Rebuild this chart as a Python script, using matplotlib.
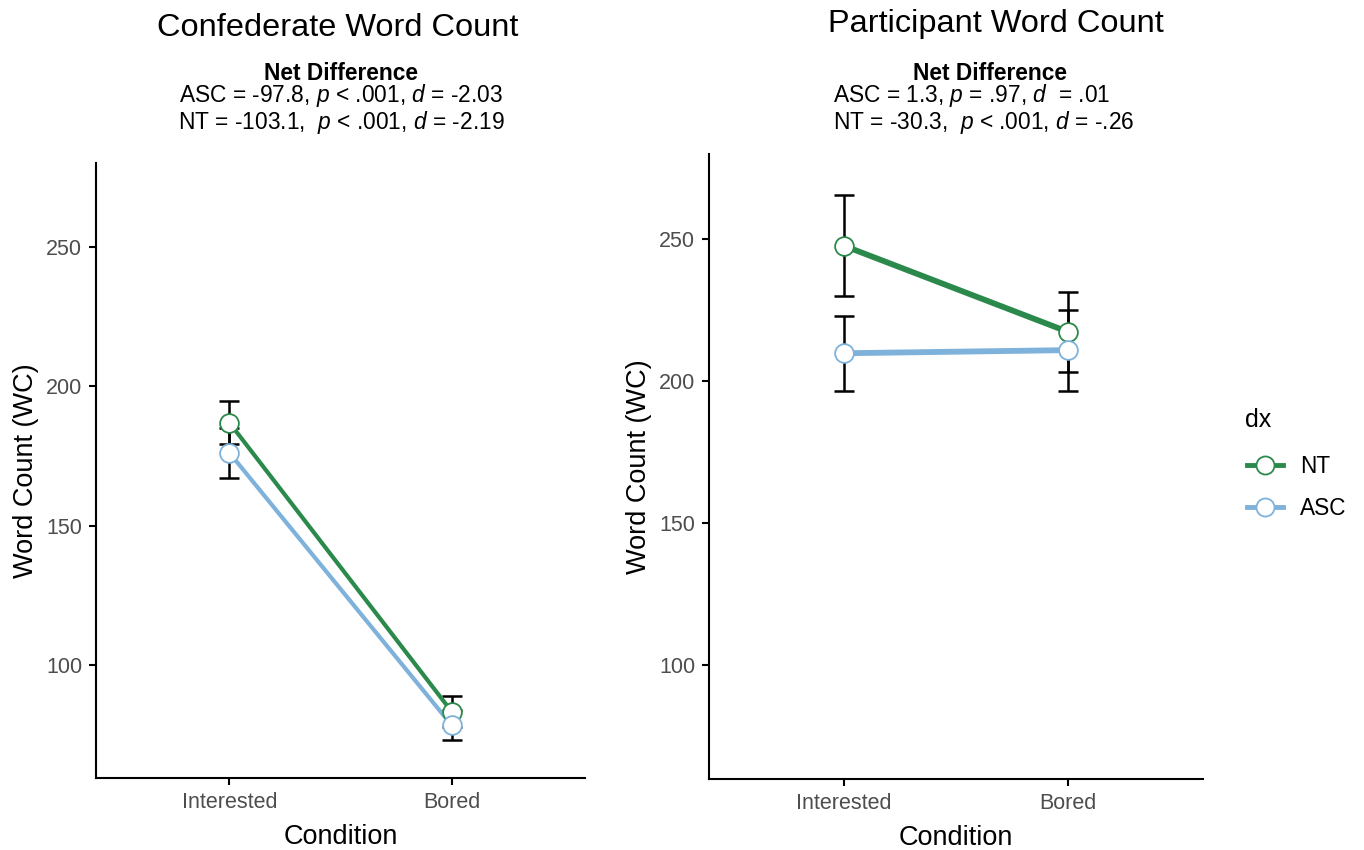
import matplotlib

matplotlib.use("Agg")  # no display in the sandbox

import matplotlib.pyplot as plt
from matplotlib.lines import Line2D

plt.rcParams["font.family"] = ["Liberation Sans", "DejaVu Sans"]
plt.rcParams["mathtext.fontset"] = "custom"
plt.rcParams["mathtext.rm"] = "Liberation Sans"
plt.rcParams["mathtext.it"] = "Liberation Sans:italic"

# Data (mean +/- error bar half-width)
CONDITIONS = ["Interested", "Bored"]
GROUPS = ["NT", "ASC"]

CONF_NT_MEAN = [187.0, 83.5]
CONF_NT_ERR = [7.7, 5.4]
CONF_ASC_MEAN = [176.2, 78.6]
CONF_ASC_ERR = [8.9, 5.3]

PART_NT_MEAN = [247.8, 217.4]
PART_NT_ERR = [17.9, 14.0]
PART_ASC_MEAN = [209.9, 211.0]
PART_ASC_ERR = [13.2, 14.3]

TITLES = ["Confederate Word Count", "Participant Word Count"]
SUBTITLE_HEAD = "Net Difference"
CONF_STATS = [
    r"ASC = -97.8, $\mathit{p}$ < .001, $\mathit{d}$ = -2.03",
    r"NT = -103.1,  $\mathit{p}$ < .001, $\mathit{d}$ = -2.19",
]
PART_STATS = [
    r"ASC = 1.3, $\mathit{p}$ = .97, $\mathit{d}$  = .01",
    r"NT = -30.3,  $\mathit{p}$ < .001, $\mathit{d}$ = -.26",
]

COLORS = {"NT": "#2b8a4b", "ASC": "#7eb2db"}
TICK_GRAY = "#4d4d4d"
W, H = 1364, 850


def _draw_panel(ax, means, errs, line_width):
    """Interaction plot: error bars, then lines, then hollow points."""
    x = list(range(len(CONDITIONS)))
    for grp in GROUPS:
        ax.errorbar(
            x, means[grp], yerr=errs[grp], fmt="none", ecolor="black",
            elinewidth=1.8, capsize=7.5, capthick=1.8, zorder=2,
        )
    for grp in GROUPS:
        ax.plot(x, means[grp], color=COLORS[grp], lw=line_width, zorder=3,
                solid_capstyle="butt")
    for grp in GROUPS:
        ax.plot(x, means[grp], "o", ms=13.5, mfc="white", mec=COLORS[grp],
                mew=1.3, zorder=4)

    ax.set_xlim(-0.6, len(CONDITIONS) - 0.4)
    ax.set_ylim(59.8, 280.1)
    ax.set_xticks(x)
    ax.set_xticklabels(CONDITIONS)
    ax.set_yticks([100, 150, 200, 250])
    for side in ["top", "right"]:
        ax.spines[side].set_visible(False)
    for side in ["left", "bottom"]:
        ax.spines[side].set_linewidth(1.5)
    ax.tick_params(labelsize=15.5, labelcolor=TICK_GRAY, length=5, width=1.5,
                   pad=5)
    ax.set_xlabel("Condition", fontsize=19.5, labelpad=8)
    ax.set_ylabel("Word Count (WC)", fontsize=19.5, labelpad=5)


def _header(title, title_x, title_base, head_x, stats, stats_x):
    fig.text(title_x / W, 1 - title_base / H, title, fontsize=23.4,
             ha="center", va="baseline")
    fig.text(head_x / W, 1 - 79.5 / H, SUBTITLE_HEAD, fontsize=16.4,
             fontweight="bold", ha="center", va="baseline")
    for line, base, lx in zip(stats, [101.8, 129.3], stats_x):
        fig.text(lx / W, 1 - base / H, line, fontsize=16.4, ha="left",
                 va="baseline")


fig = plt.figure(figsize=(W / 100, H / 100), dpi=100)

ax1 = fig.add_axes([96 / W, 1 - 777.7 / H, 489 / W, 615 / H])
_draw_panel(ax1, {"NT": CONF_NT_MEAN, "ASC": CONF_ASC_MEAN},
            {"NT": CONF_NT_ERR, "ASC": CONF_ASC_ERR}, 3.0)

ax2 = fig.add_axes([709 / W, 1 - 779.3 / H, 494 / W, 625.3 / H])
_draw_panel(ax2, {"NT": PART_NT_MEAN, "ASC": PART_ASC_MEAN},
            {"NT": PART_NT_ERR, "ASC": PART_ASC_ERR}, 4.2)

_header(TITLES[0], 338, 36.5, 340.5, CONF_STATS, [179, 178])
_header(TITLES[1], 996, 32, 990, PART_STATS, [833, 833])

# legend: title as plain text, keys without frame
fig.text(1245 / W, 1 - 427 / H, "dx", fontsize=18, ha="left", va="baseline")
handles = [
    Line2D([], [], color=COLORS[g], lw=3.5, marker="o", ms=13, mfc="white",
           mec=COLORS[g], mew=1.3)
    for g in GROUPS
]
fig.legend(
    handles, GROUPS, loc="upper left", bbox_to_anchor=(1247 / W, 1 - 455 / H),
    frameon=False, fontsize=16.3, borderpad=0, borderaxespad=0,
    handlelength=1.6, handletextpad=0.75, labelspacing=0.82,
)

fig.savefig("out.png", dpi=100)
